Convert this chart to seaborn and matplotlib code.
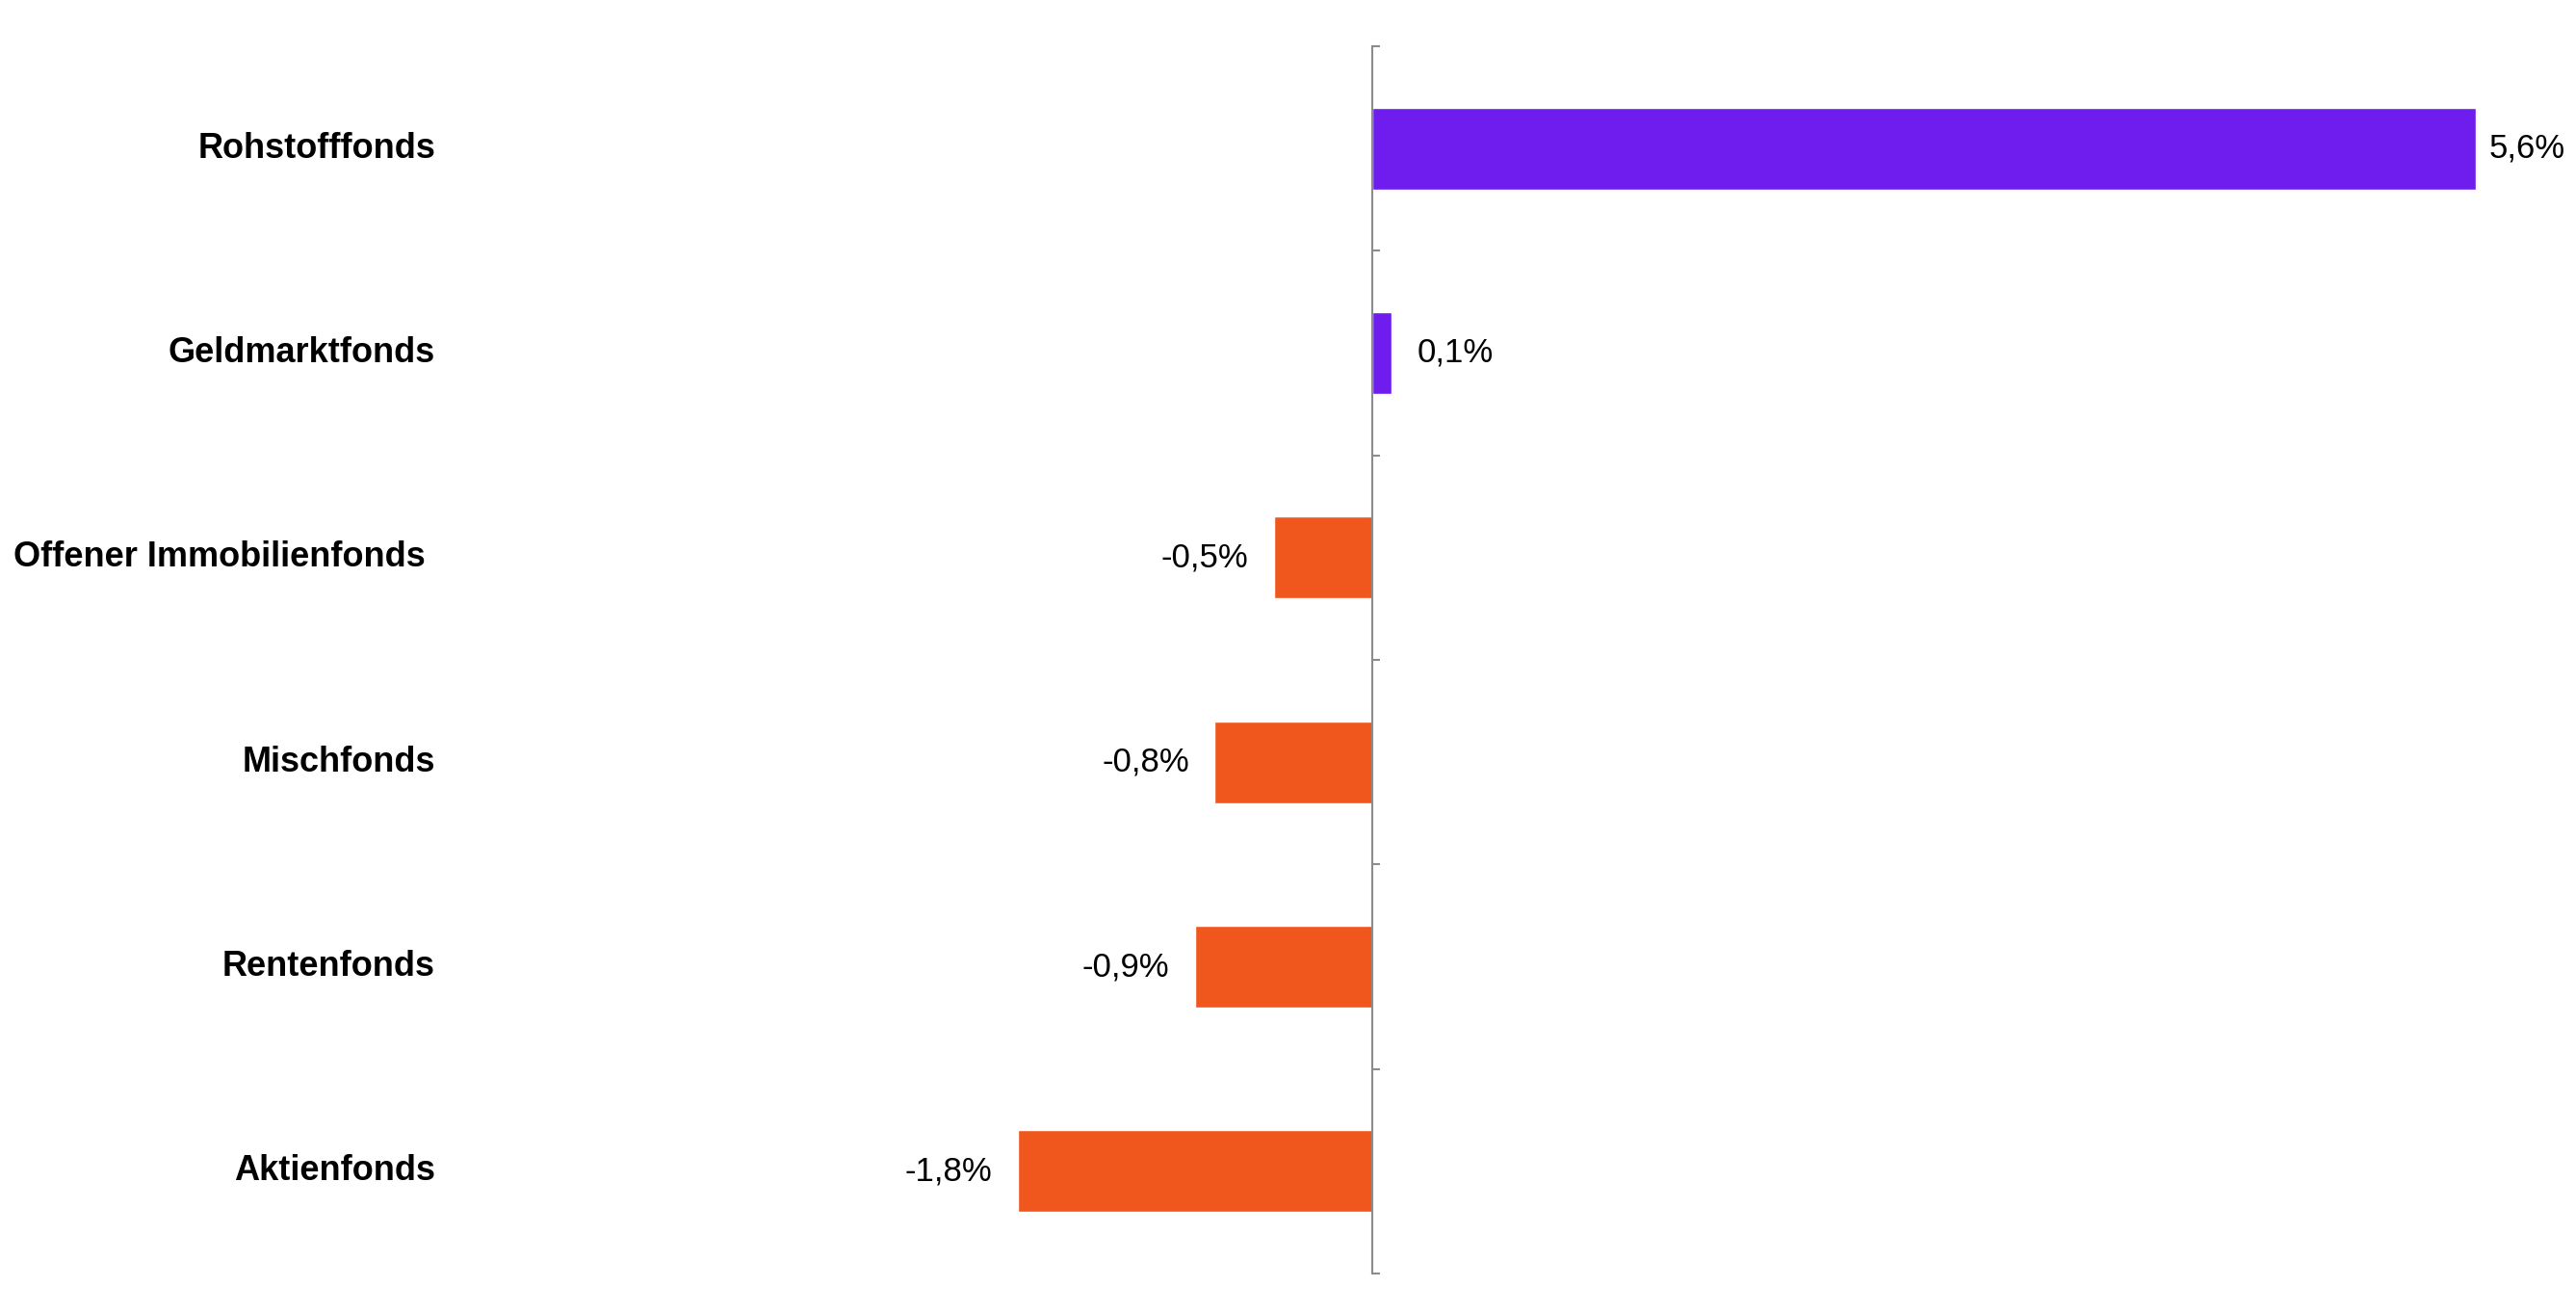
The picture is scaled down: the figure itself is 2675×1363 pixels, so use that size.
import matplotlib
matplotlib.use('Agg')
import matplotlib.pyplot as plt
import matplotlib.transforms as mtransforms
import seaborn as sns
import pandas as pd

# chart data
categories = ['Rohstofffonds', 'Geldmarktfonds', 'Offener Immobilienfonds ',
              'Mischfonds', 'Rentenfonds', 'Aktienfonds']
values = [5.6, 0.1, -0.5, -0.8, -0.9, -1.8]
value_labels = ['5,6%', '0,1%', '-0,5%', '-0,8%', '-0,9%', '-1,8%']

purple = '#6E1DEE'
orange = '#F0571D'
axis_grey = '#8C8C8C'

df = pd.DataFrame({'Kategorie': categories, 'Wert': values})
palette = {c: (purple if v >= 0 else orange) for c, v in zip(categories, values)}

sns.set_style('white')
plt.rcParams['font.family'] = ['Liberation Sans', 'DejaVu Sans']

fig = plt.figure(figsize=(26.75, 13.63), dpi=100)
ax = fig.add_axes([470 / 2675, 1 - 1322 / 1363, (2600 - 470) / 2675, (1322 - 48) / 1363])

sns.barplot(data=df, x='Wert', y='Kategorie', hue='Kategorie', palette=palette,
            orient='h', width=0.4, legend=False, ax=ax, saturation=1)

ax.set_xlim(-4.668, 5.743)
ax.set_ylim(len(categories) - 0.5, -0.5)

# spines: only a vertical line at zero
for side in ['top', 'right', 'bottom']:
    ax.spines[side].set_visible(False)
ax.spines['left'].set_position(('data', 0))
ax.spines['left'].set_color(axis_grey)
ax.spines['left'].set_linewidth(1.5)

ax.set_xticks([])
ax.set_yticks([i - 0.5 for i in range(len(categories) + 1)])
ax.set_yticklabels([])
ax.tick_params(axis='y', direction='in', length=6, width=1.5, color=axis_grey, left=True)
ax.set_xlabel('')
ax.set_ylabel('')

# category labels on the far left
trans = mtransforms.blended_transform_factory(fig.transFigure, ax.transData)
for i, cat in enumerate(categories):
    ax.text(452 / 2675, i, cat, transform=trans, ha='right', va='center',
            fontsize=26, fontweight='bold', color='black')

# value labels
for i, (v, lab) in enumerate(zip(values, value_labels)):
    pad = 10 if v > 5 else 19
    ax.annotate(lab, xy=(v, i), xytext=(pad if v >= 0 else -pad, 0),
                textcoords='offset points', ha='left' if v >= 0 else 'right',
                va='center', fontsize=25, color='black')

fig.savefig('out.png', dpi=100)
